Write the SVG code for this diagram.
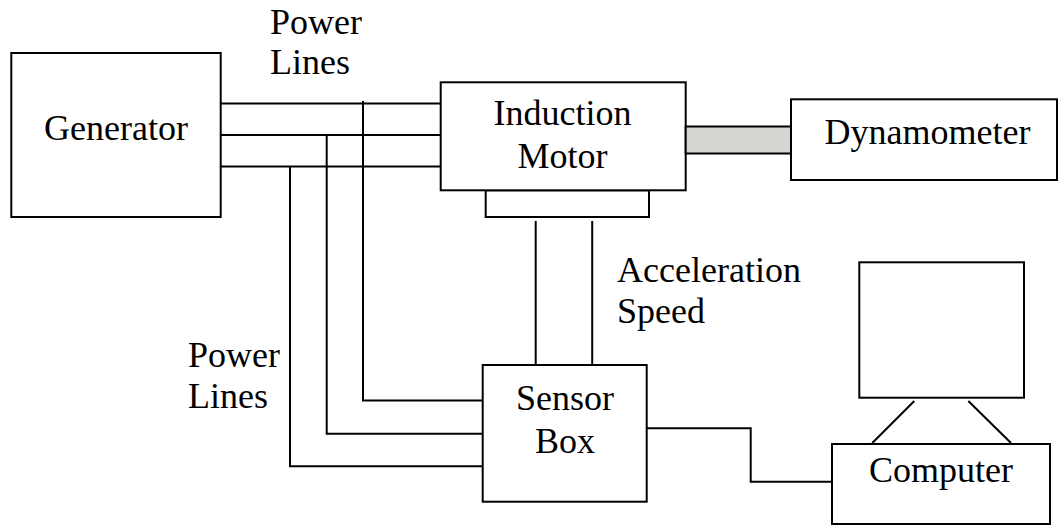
<svg xmlns="http://www.w3.org/2000/svg" width="1059" height="525" viewBox="0 0 1059 525">
<style>
.box{fill:#fff;stroke:#000;stroke-width:2}
.ln{fill:none;stroke:#000;stroke-width:2}
.t{font-family:"Liberation Serif","Times New Roman",serif;font-size:36px;fill:#000}
.c{text-anchor:middle}
</style>
<rect width="1059" height="525" fill="#fff"/>
<g id="connectors">
<line class="ln" x1="220" y1="103.5" x2="441" y2="103.5"/>
<line class="ln" x1="220" y1="135" x2="441" y2="135"/>
<line class="ln" x1="220" y1="166.5" x2="441" y2="166.5"/>
<polyline class="ln" points="363,101 363,400.5 483,400.5"/>
<polyline class="ln" points="326.7,135 326.7,433.7 483,433.7"/>
<polyline class="ln" points="290,166.5 290,466.3 483,466.3"/>
<line class="ln" x1="535.7" y1="221" x2="535.7" y2="365"/>
<line class="ln" x1="592.2" y1="221" x2="592.2" y2="365"/>
<polyline class="ln" points="647,428.3 750.7,428.3 750.7,481.7 832,481.7"/>
<line class="ln" x1="914.3" y1="401" x2="872.3" y2="443"/>
<line class="ln" x1="968.3" y1="401" x2="1011" y2="443"/>
</g>
<g id="generator">
<rect class="box" x="11.3" y="53" width="209.4" height="164"/>
<text class="t c" x="116" y="140">Generator</text>
</g>
<g id="power-lines-top">
<text class="t" x="270" y="34">Power</text>
<text class="t" x="270" y="74">Lines</text>
</g>
<g id="induction-motor">
<rect class="box" x="485.7" y="190.3" width="163.3" height="26.7"/>
<rect class="box" x="440.7" y="82.3" width="245" height="108"/>
<text class="t c" x="562.5" y="125">Induction</text>
<text class="t c" x="562.5" y="168">Motor</text>
</g>
<g id="shaft">
<rect x="685.7" y="126.5" width="105.3" height="27" fill="#d5d7d3" stroke="#000" stroke-width="2"/>
</g>
<g id="dynamometer">
<rect class="box" x="791" y="99.3" width="266" height="80.7"/>
<text class="t c" x="927.5" y="144">Dynamometer</text>
</g>
<g id="acceleration-speed">
<text class="t" x="617" y="282">Acceleration</text>
<text class="t" x="617" y="323">Speed</text>
</g>
<g id="power-lines-left">
<text class="t" x="188" y="367">Power</text>
<text class="t" x="188" y="408">Lines</text>
</g>
<g id="sensor-box">
<rect class="box" x="482.7" y="365" width="164" height="136.7"/>
<text class="t c" x="565" y="410">Sensor</text>
<text class="t c" x="565" y="453">Box</text>
</g>
<g id="monitor">
<rect class="box" x="859.3" y="262.3" width="164.7" height="135.4"/>
</g>
<g id="computer">
<rect class="box" x="832" y="444" width="218" height="80"/>
<text class="t c" x="941" y="481.5">Computer</text>
</g>
</svg>
